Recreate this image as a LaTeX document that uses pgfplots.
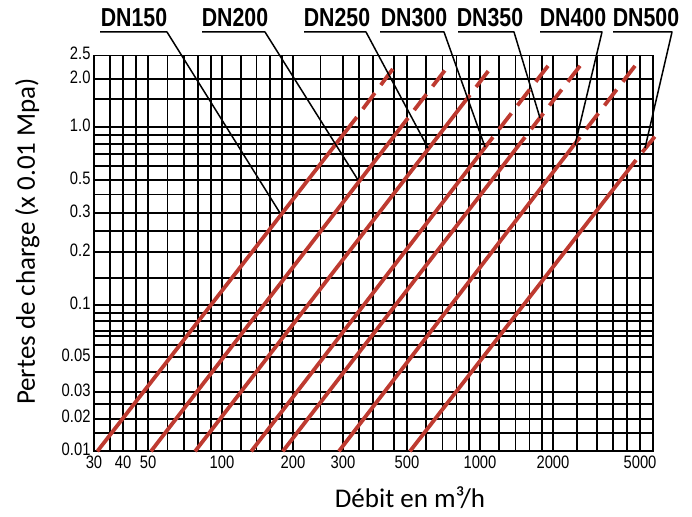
\documentclass[border=0pt]{standalone}
\usepackage{fontspec}
\setmainfont{Liberation Sans}
\newfontfamily\narrowfont[FakeStretch=0.82]{Liberation Sans}
\newfontfamily\labelfont{Carlito}
\usepackage{pgfplots}
\pgfplotsset{compat=1.18}
\definecolor{dnred}{RGB}{190,58,48}
\newcommand\tickfont{\narrowfont\fontsize{18}{18}\selectfont}
\newcommand\dnfont{\narrowfont\bfseries\fontsize{26}{26}\selectfont}
% piecewise logarithmic scales, following the hand-drawn grid of the nomogram
\pgfplotsset{
  x coord trafo/.code={%
    \pgfmathparse{ln(#1)/2.302585}\let\myL\pgfmathresult
    \pgfmathparse{ifthenelse(\myL<1.60206,(\myL-1.47712)*232.11,
      ifthenelse(\myL<1.69897,29+(\myL-1.60206)*257.97,
      ifthenelse(\myL<2,54+(\myL-1.69897)*245.82,
      ifthenelse(\myL<2.30103,128+(\myL-2)*235.86,
      ifthenelse(\myL<2.47712,199+(\myL-2.30103)*283.95,
      ifthenelse(\myL<2.69897,249+(\myL-2.47712)*288.48,
      ifthenelse(\myL<3,313+(\myL-2.69897)*242.50,
      ifthenelse(\myL<3.30103,386+(\myL-3)*242.50,
      ifthenelse(\myL<3.47712,459+(\myL-3.30103)*249.87,
      ifthenelse(\myL<3.60206,503+(\myL-3.47712)*240.12,
      ifthenelse(\myL<3.69897,533+(\myL-3.60206)*134.15,
      546+(\myL-3.69897)*314.09)))))))))))}%
  },
  y coord trafo/.code={%
    \pgfmathparse{ln(#1)/2.302585}\let\myL\pgfmathresult
    \pgfmathparse{ifthenelse(\myL<(-1.69897),(\myL+2)*106.30,
      ifthenelse(\myL<(-1.52288),32+(\myL+1.69897)*153.33,
      ifthenelse(\myL<(-1.30103),59+(\myL+1.52288)*157.76,
      ifthenelse(\myL<(-1),94+(\myL+1.30103)*172.74,
      ifthenelse(\myL<(-0.69897),146+(\myL+1)*176.06,
      ifthenelse(\myL<(-0.52288),199+(\myL+0.69897)*221.48,
      ifthenelse(\myL<(-0.30103),238+(\myL+0.52288)*148.75,
      ifthenelse(\myL<0,271+(\myL+0.30103)*176.06,
      ifthenelse(\myL<0.30103,324+(\myL)*159.45,
      372+(\myL-0.30103)*242.49)))))))))}%
  },
}
\begin{document}
\begin{tikzpicture}
\useasboundingbox (0,0) rectangle (692pt,516pt);
\begin{axis}[
  at={(94pt,65pt)}, anchor=south west,
  scale only axis, width=559pt, height=395.5pt,
  xmin=30, xmax=5500, ymin=0.01, ymax=2.5,
  clip=false,
  scaled x ticks=false, scaled y ticks=false,
  xtick={30,35,40,45,50,60,70,80,90,100,120,140,160,180,200,250,300,340,380,450,500,600,700,800,900,1000,1200,1400,1600,1800,2000,2500,3000,3500,4000,5000,5500},
  xticklabels={30,,40,,50,,,,,100,,,,,200,,300,,,,500,,,,,1000,,,,,2000,,,,,5000,},
  ytick={0.01,0.015,0.02,0.025,0.03,0.04,0.05,0.059,0.065,0.07,0.08,0.09,0.1,0.14,0.2,0.25,0.3,0.4,0.5,0.6,0.7,0.8,0.9,1.0,1.5,2.0,2.5},
  yticklabels={0.01,,0.02,,0.03,,0.05,,,,,,0.1,,0.2,,0.3,,0.5,,,,,1.0,,2.0,2.5},
  major tick length=0pt,
  tick style={draw=none},
  tick label style={font=\tickfont, text=black},
  xticklabel style={yshift=-1.5pt},
  yticklabel style={yshift=2pt},
  grid=major,
  major grid style={black, line width=1.9pt},
  axis line style={black, line width=1.9pt},
]
% DN150
\addplot[dnred, line width=3.8pt] coordinates {(31,0.01) (335,1.155)};
\addplot[dnred, line width=3.8pt, dash pattern=on 20pt off 10pt, dash phase=20pt] coordinates {(335,1.155) (454,2.26)};
% DN200
\addplot[dnred, line width=3.8pt] coordinates {(51.4,0.01) (505,1.14)};
\addplot[dnred, line width=3.8pt, dash pattern=on 20pt off 10pt, dash phase=20pt] coordinates {(505,1.14) (752,2.31)};
% DN250
\addplot[dnred, line width=3.8pt] coordinates {(77.7,0.01) (909,1.59)};
\addplot[dnred, line width=3.8pt, dash pattern=on 20pt off 10pt, dash phase=20pt] coordinates {(909,1.59) (1121,2.26)};
% DN300
\addplot[dnred, line width=3.8pt] coordinates {(133,0.01) (1131,0.877)};
\addplot[dnred, line width=3.8pt, dash pattern=on 20pt off 10pt, dash phase=20pt] coordinates {(1131,0.877) (1962,2.35)};
% DN350
\addplot[dnred, line width=3.8pt] coordinates {(181,0.01) (1533,0.877)};
\addplot[dnred, line width=3.8pt, dash pattern=on 20pt off 10pt, dash phase=20pt] coordinates {(1533,0.877) (2637,2.35)};
% DN400
\addplot[dnred, line width=3.8pt] coordinates {(290,0.01) (2565,0.877)};
\addplot[dnred, line width=3.8pt, dash pattern=on 20pt off 10pt, dash phase=20pt] coordinates {(2565,0.877) (4831,2.35)};
% DN500
\addplot[dnred, line width=3.8pt] coordinates {(514,0.01) (4668,0.65)};
\addplot[dnred, line width=3.8pt, dash pattern=on 20pt off 10pt, dash phase=20pt] coordinates {(4668,0.65) (5622,0.90)};
\end{axis}
% labels and leader lines
\begin{scope}[line width=1.5pt, line join=round]
\draw (100pt,484pt) -- (167pt,484pt) -- (280pt,303pt);
\draw (202pt,484pt) -- (265pt,484pt) -- (358pt,336pt);
\draw (304pt,484pt) -- (366pt,484pt) -- (428pt,368pt);
\draw (380pt,484pt) -- (444pt,484pt) -- (485pt,369pt);
\draw (458pt,484pt) -- (514pt,484pt) -- (540pt,398pt);
\draw (540pt,484pt) -- (602pt,484pt) -- (575pt,371pt);
\draw (613pt,484pt) -- (672pt,484pt) -- (645pt,368pt);
\end{scope}
\node[font=\dnfont, anchor=base, inner sep=0pt] at (134pt,489pt) {DN150};
\node[font=\dnfont, anchor=base, inner sep=0pt] at (235pt,489pt) {DN200};
\node[font=\dnfont, anchor=base, inner sep=0pt] at (337pt,489pt) {DN250};
\node[font=\dnfont, anchor=base, inner sep=0pt] at (414pt,489pt) {DN300};
\node[font=\dnfont, anchor=base, inner sep=0pt] at (490pt,489pt) {DN350};
\node[font=\dnfont, anchor=base, inner sep=0pt] at (573pt,489pt) {DN400};
\node[font=\dnfont, anchor=base, inner sep=0pt] at (646pt,489pt) {DN500};
\node[font=\labelfont\fontsize{27}{27}\selectfont, anchor=base, inner sep=0pt] at (410pt,9pt) {Débit en m³/h};
\node[font=\labelfont\fontsize{27}{27}\selectfont, anchor=base, inner sep=0pt, rotate=90] at (35pt,274.5pt) {Pertes de charge (x 0.01 Mpa)};
\end{tikzpicture}
\end{document}
